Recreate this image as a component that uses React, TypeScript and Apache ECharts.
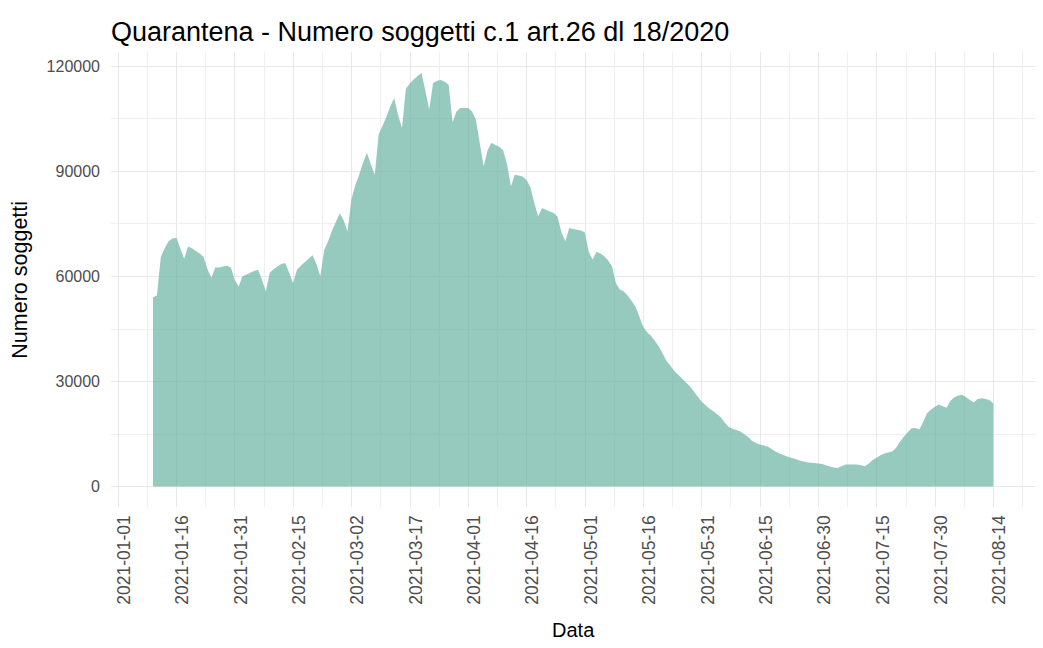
import React, { useEffect, useRef } from "react";
import * as echarts from "echarts";

// First date of the series (one value per day)
const firstDate = "2021-01-10";

// Numero soggetti in quarantena, daily from 2021-01-10 to 2021-08-14
const quarantena: number[] = [
  54000, 54500, 65500, 68000, 70000, 70800, 71000, 68000, 65000, 68500,
  68000, 67200, 66500, 65500, 62000, 59600, 62500, 62500, 62800, 63000,
  62500, 59000, 57100, 60000, 60500, 61000, 61500, 61900, 59000, 55700,
  61000, 62000, 62800, 63500, 63800, 61000, 58100, 61900, 63000, 64000,
  65000, 66000, 63500, 60000, 67500, 70000, 73000, 75500, 78000, 76000,
  72800, 82000, 86000, 89000, 92500, 95200, 92000, 89000, 100500, 103000,
  105500, 108500, 110900, 106000, 102300, 113500, 115000, 116200, 117200, 118000,
  113000, 107600, 115200, 115800, 116000, 115500, 114700, 104000, 107000, 108000,
  108000, 108000, 107000, 104700, 98000, 91400, 96000, 98100, 97500, 97000,
  96000, 92000, 85700, 89000, 88800, 88500, 87500, 85500, 81000, 77100,
  79500, 79000, 78500, 78100, 77000, 72500, 70000, 73800, 73500, 73300,
  73100, 72500, 67000, 64800, 67000, 66500, 65700, 64500, 62800, 58000,
  56200, 55700, 54500, 53000, 51400, 48500, 45700, 44000, 43000, 41500,
  40000, 38000, 35800, 34500, 33000, 31900, 30800, 29700, 28600, 27200,
  25700, 24300, 23300, 22300, 21500, 20600, 19700, 18200, 17000, 16500,
  16100, 15700, 14900, 14100, 13000, 12400, 12000, 11700, 11400, 10700,
  10000, 9400, 9000, 8600, 8200, 7900, 7500, 7200, 6900, 6800,
  6700, 6600, 6400, 6100, 5700, 5400, 5300, 5800, 6300, 6300,
  6300, 6300, 6100, 5800, 6600, 7600, 8200, 8900, 9400, 9700,
  10000, 11000, 12800, 14200, 15500, 16600, 16700, 16300, 18500, 21000,
  22000, 22800, 23400, 22900, 22500, 24500, 25500, 26000, 26200, 25500,
  24700, 24000, 25000, 25200, 25000, 24700, 23700,
];

// x-axis tick labels (every 15 days)
const xTickDates = [
  "2021-01-01", "2021-01-16", "2021-01-31", "2021-02-15", "2021-03-02",
  "2021-03-17", "2021-04-01", "2021-04-16", "2021-05-01", "2021-05-16",
  "2021-05-31", "2021-06-15", "2021-06-30", "2021-07-15", "2021-07-30",
  "2021-08-14",
];

// y-axis tick values
const yTicks = [0, 30000, 60000, 90000, 120000];
const yMinorTicks = [15000, 45000, 75000, 105000];

const DAY = 86400000;
const origin = Date.UTC(2021, 0, 1);
const dayOf = (s: string) => Math.round((Date.parse(s + "T00:00:00Z") - origin) / DAY);

const startDay = dayOf(firstDate);
const points = quarantena.map((v, i) => [startDay + i, v]);
const xMajor = xTickDates.map(dayOf);
const xMinor = xMajor.map((d) => d + 7.5);

// ggplot-like 5% expansion of the ranges
const lastDay = startDay + quarantena.length - 1;
const xSpan = lastDay - startDay;
const X_MIN = startDay - xSpan * 0.05;
const X_MAX = lastDay + xSpan * 0.05;
const yMaxData = Math.max(...quarantena);
const Y_MIN = -yMaxData * 0.05;
const Y_MAX = yMaxData * 1.05;

const FONT = "'Liberation Sans', Arial, sans-serif";

export default function App() {
  const ref = useRef<HTMLDivElement>(null);
  useEffect(() => {
    if (!ref.current) return;
    const chart = echarts.init(ref.current, undefined, { renderer: "svg" });
    const dateLabel = (v: number) => {
      const i = xMajor.indexOf(Math.round(v));
      return i >= 0 ? xTickDates[i] : "";
    };
    chart.setOption({
      animation: false,
      backgroundColor: "#ffffff",
      textStyle: { fontFamily: FONT },
      title: {
        text: "Quarantena - Numero soggetti c.1 art.26 dl 18/2020",
        left: 106,
        top: 13,
        textStyle: { fontSize: 27, fontWeight: "normal", color: "#000000", fontFamily: FONT },
      },
      grid: { left: 111, right: 7.7, top: 52.4, bottom: 140.8, containLabel: false },
      xAxis: [
        {
          type: "value",
          min: X_MIN,
          max: X_MAX,
          position: "bottom",
          axisLine: { show: false },
          axisTick: { show: false, customValues: xMajor },
          axisLabel: {
            customValues: xMajor,
            rotate: 90,
            margin: 8,
            fontSize: 17.5,
            lineHeight: 12,
            verticalAlign: "top",
            color: "#4d4d4d",
            fontFamily: FONT,
            formatter: dateLabel,
          },
          splitLine: { show: true, lineStyle: { color: "#e8e8e8", width: 1 } },
          name: "Data",
          nameLocation: "middle",
          nameGap: 113,
          nameTextStyle: { fontSize: 20, color: "#000000", fontFamily: FONT },
        },
        {
          type: "value",
          min: X_MIN,
          max: X_MAX,
          position: "top",
          axisLine: { show: false },
          axisTick: { show: false, customValues: xMinor },
          axisLabel: { show: false, customValues: xMinor },
          splitLine: { show: true, lineStyle: { color: "#efefef", width: 1 } },
        },
      ],
      yAxis: [
        {
          type: "value",
          min: Y_MIN,
          max: Y_MAX,
          position: "left",
          axisLine: { show: false },
          axisTick: { show: false, customValues: yTicks },
          axisLabel: {
            customValues: yTicks,
            margin: 11,
            fontSize: 16,
            color: "#4d4d4d",
            fontFamily: FONT,
            formatter: (v: number) => String(Math.round(v)),
          },
          splitLine: { show: true, lineStyle: { color: "#e8e8e8", width: 1 } },
          name: "Numero soggetti",
          nameLocation: "middle",
          nameRotate: 90,
          nameGap: 80,
          nameTextStyle: { fontSize: 21.5, color: "#000000", fontFamily: FONT },
        },
        {
          type: "value",
          min: Y_MIN,
          max: Y_MAX,
          position: "right",
          axisLine: { show: false },
          axisTick: { show: false, customValues: yMinorTicks },
          axisLabel: { show: false, customValues: yMinorTicks },
          splitLine: { show: true, lineStyle: { color: "#efefef", width: 1 } },
        },
      ],
      series: [
        {
          type: "line",
          xAxisIndex: 0,
          yAxisIndex: 0,
          data: points,
          showSymbol: false,
          symbol: "none",
          lineStyle: { width: 0, color: "#69b3a2" },
          itemStyle: { color: "#69b3a2" },
          areaStyle: { color: "#69b3a2", opacity: 0.7 },
          z: 3,
        },
      ],
    });
    return () => chart.dispose();
  }, []);
  return (
    <div
      ref={ref}
      style={{ position: "absolute", left: 0, top: 0, width: 1043, height: 648 }}
    />
  );
}
